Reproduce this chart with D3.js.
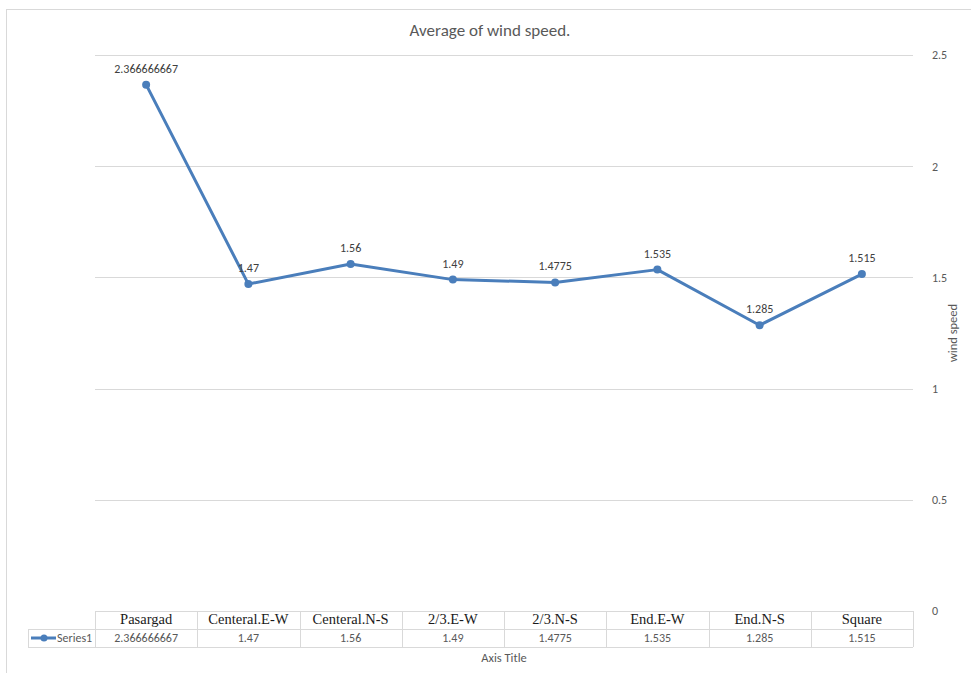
<!DOCTYPE html>
<html>
<head>
<meta charset="utf-8">
<script src="https://cdn.jsdelivr.net/npm/d3@7"></script>
<style>
  html, body { margin: 0; padding: 0; background: #fff; }
  svg { display: block; }
</style>
</head>
<body>
<svg id="chart" width="971" height="673"></svg>
<script>
// Sites along the garden and their average wind speed
const categories = ["Pasargad", "Centeral.E-W", "Centeral.N-S", "2/3.E-W", "2/3.N-S", "End.E-W", "End.N-S", "Square"];
const windSpeed = [2.366666667, 1.47, 1.56, 1.49, 1.4775, 1.535, 1.285, 1.515];
const valueLabels = ["2.366666667", "1.47", "1.56", "1.49", "1.4775", "1.535", "1.285", "1.515"];
const yTicks = [0, 0.5, 1, 1.5, 2, 2.5];
const seriesName = "Series1";

const svg = d3.select("#chart");
const plot = { left: 95, right: 913, top: 55, bottom: 611 };
const lineColor = "#4a7ebb";
const sans = "Carlito, Calibri, 'Open Sans', 'Liberation Sans', sans-serif";

// Chart frame
svg.append("rect").attr("x", 6.5).attr("y", 9.5).attr("width", 980).attr("height", 700)
  .attr("fill", "none").attr("stroke", "#d9d9d9").attr("stroke-width", 1);

const x = d3.scaleBand().domain(categories).range([plot.left, plot.right]);
const y = d3.scaleLinear().domain([0, 2.5]).range([plot.bottom, plot.top]);

// Horizontal gridlines (none at zero, where the data table sits)
svg.append("g").selectAll("line").data(yTicks.filter(d => d > 0)).join("line")
  .attr("x1", plot.left).attr("x2", plot.right)
  .attr("y1", d => Math.round(y(d)) + 0.5).attr("y2", d => Math.round(y(d)) + 0.5)
  .attr("stroke", "#d9d9d9").attr("stroke-width", 1);

// Value axis on the right
const yAxis = d3.axisRight(y).tickValues(yTicks).tickSize(0).tickPadding(19).tickFormat(d3.format("~g"));
const yg = svg.append("g").attr("transform", `translate(${plot.right},0)`).call(yAxis);
yg.select(".domain").remove();
yg.selectAll("text").attr("fill", "#595959").style("font-family", sans).style("font-size", "12px");

// Axis titles and chart title
svg.append("text").attr("transform", `translate(953,333) rotate(-90)`).attr("text-anchor", "middle")
  .attr("dy", "0.35em").attr("fill", "#595959").style("font-family", sans).style("font-size", "12.5px")
  .text("wind speed");
svg.append("text").attr("x", 490).attr("y", 36).attr("text-anchor", "middle")
  .attr("fill", "#595959").style("font-family", sans).style("font-size", "17px")
  .text("Average of wind speed.");
svg.append("text").attr("x", 504).attr("y", 662).attr("text-anchor", "middle")
  .attr("fill", "#595959").style("font-family", sans).style("font-size", "12.5px")
  .text("Axis Title");

// Data table beneath the plot: category header row and value row
const rowTop = plot.bottom, rowMid = 629, rowBot = 647, tableLeft = 28;
const tbl = svg.append("g").attr("stroke", "#d9d9d9").attr("stroke-width", 1).attr("fill", "none");
tbl.append("line").attr("x1", plot.left).attr("x2", plot.right).attr("y1", rowTop + 0.5).attr("y2", rowTop + 0.5);
tbl.append("line").attr("x1", tableLeft).attr("x2", plot.right).attr("y1", rowMid + 0.5).attr("y2", rowMid + 0.5);
tbl.append("line").attr("x1", tableLeft).attr("x2", plot.right).attr("y1", rowBot + 0.5).attr("y2", rowBot + 0.5);
tbl.append("line").attr("x1", tableLeft + 0.5).attr("x2", tableLeft + 0.5).attr("y1", rowMid).attr("y2", rowBot);
tbl.selectAll("line.sep").data(categories.concat(["__end"])).join("line").attr("class", "sep")
  .attr("x1", (d, i) => Math.round(plot.left + i * x.bandwidth()) + 0.5)
  .attr("x2", (d, i) => Math.round(plot.left + i * x.bandwidth()) + 0.5)
  .attr("y1", rowTop).attr("y2", rowBot);

svg.append("g").selectAll("text").data(categories).join("text")
  .attr("x", d => x(d) + x.bandwidth() / 2).attr("y", 624).attr("text-anchor", "middle")
  .attr("fill", "#1a1a1a").style("font-family", "'Liberation Serif', 'Times New Roman', serif").style("font-size", "14.5px")
  .text(d => d);
svg.append("g").selectAll("text").data(valueLabels).join("text")
  .attr("x", (d, i) => x(categories[i]) + x.bandwidth() / 2).attr("y", 642).attr("text-anchor", "middle")
  .attr("fill", "#595959").style("font-family", sans).style("font-size", "12px")
  .text(d => d);

// Legend key in the table
svg.append("line").attr("x1", 31).attr("x2", 56).attr("y1", 638).attr("y2", 638)
  .attr("stroke", lineColor).attr("stroke-width", 3);
svg.append("circle").attr("cx", 44).attr("cy", 638).attr("r", 3.5).attr("fill", lineColor);
svg.append("text").attr("x", 57).attr("y", 642).attr("fill", "#595959")
  .style("font-family", sans).style("font-size", "12px").text(seriesName);

// Series line with markers and data labels
const pts = windSpeed.map((v, i) => ({ c: categories[i], v, label: valueLabels[i] }));
const cx = d => x(d.c) + x.bandwidth() / 2;
svg.append("path").datum(pts)
  .attr("d", d3.line().x(cx).y(d => y(d.v)))
  .attr("fill", "none").attr("stroke", lineColor).attr("stroke-width", 3).attr("stroke-linejoin", "round");
svg.append("g").selectAll("circle").data(pts).join("circle")
  .attr("cx", cx).attr("cy", d => y(d.v)).attr("r", 4).attr("fill", lineColor);
svg.append("g").selectAll("text").data(pts).join("text")
  .attr("x", cx).attr("y", d => y(d.v) - 12).attr("text-anchor", "middle")
  .attr("fill", "#404040").style("font-family", sans).style("font-size", "12px")
  .text(d => d.label);
</script>
</body>
</html>
